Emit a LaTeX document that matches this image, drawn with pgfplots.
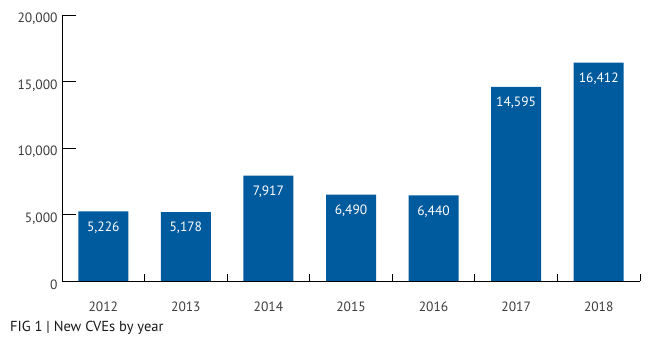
\documentclass[border=0pt]{standalone}
\usepackage{pgfplots}
\pgfplotsset{compat=1.18}
\usepackage{fontspec}
\setmainfont{PT Sans}
\definecolor{barblue}{RGB}{0,90,158}
\definecolor{ticktext}{RGB}{60,60,60}
\begin{document}
\begin{tikzpicture}
\begin{axis}[
  at={(0,0)}, anchor=south west,
  scale only axis,
  width=578pt, height=266pt,
  xmin=-0.5, xmax=6.5,
  ymin=0, ymax=20000,
  axis x line=bottom, axis y line=left,
  axis line style={-, line width=0.9pt, black},
  xtick={0,1,2,3,4,5,6},
  xticklabels={2012,2013,2014,2015,2016,2017,2018},
  xtick style={/pgfplots/major tick length=0pt},
  extra x ticks={-0.5,0.5,1.5,2.5,3.5,4.5,5.5,6.5},
  extra x tick labels={},
  extra x tick style={/pgfplots/major tick length=7pt, tick align=inside, xtick style={/pgfplots/major tick length=7pt, line width=0.9pt, black}},
  ytick={0,5000,10000,15000,20000},
  scaled y ticks=false,
  tick align=inside,
  major tick length=14pt,
  ytick style={line width=0.9pt, black},
  /pgf/number format/assume math mode=true,
  /pgf/number format/1000 sep={,},
  tick label style={font=\fontsize{13.5}{15}\selectfont, text=ticktext},
  yticklabel style={xshift=-1pt, yshift=-4pt},
  xticklabel style={yshift=-3pt},
  ybar, bar width=50pt,
  nodes near coords={\pgfmathprintnumber[assume math mode=true,1000 sep={,},fixed,precision=0]{\pgfplotspointmeta}},
  every node near coord/.append style={anchor=center, yshift=-16pt, text=white, font=\fontsize{13.5}{15}\selectfont},
]
\addplot[fill=barblue, draw=none] coordinates {
  (0,5226) (1,5178) (2,7917) (3,6490) (4,6440) (5,14595) (6,16412)
};
\end{axis}
\node[anchor=west, text=black!90, font=\fontsize{14.5}{16}\selectfont, inner sep=0pt] at (-52pt,-47pt) {FIG 1 | New CVEs by year};
\pgfresetboundingbox
\path[use as bounding box] (-62pt,-63pt) rectangle (590pt,281pt);
\end{tikzpicture}
\end{document}
